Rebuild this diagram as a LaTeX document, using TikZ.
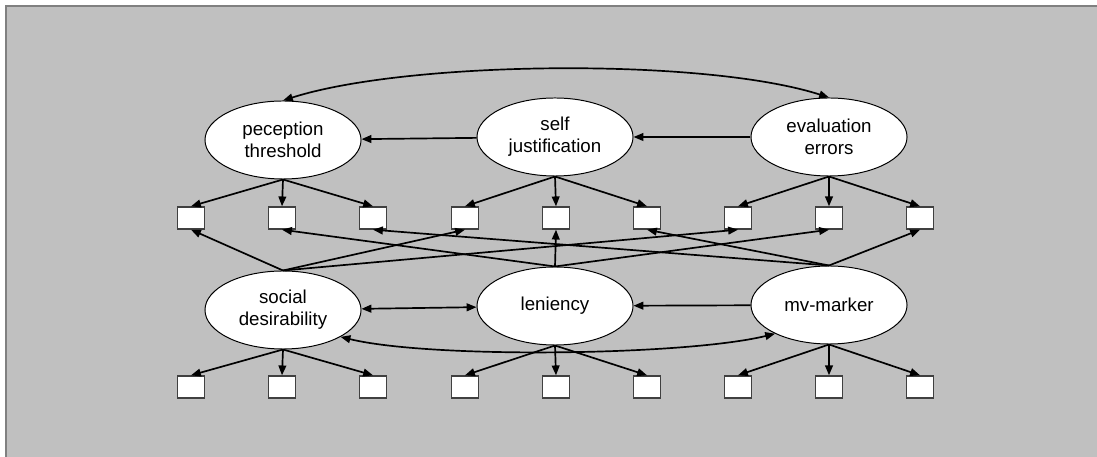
\documentclass[tikz,border=0pt]{standalone}
\usepackage{fontspec}
\setmainfont{Liberation Sans}
\usepackage{xcolor}
\usetikzlibrary{arrows.meta,shapes.geometric}
\definecolor{panel}{HTML}{C0C0C0}
\definecolor{panelrim}{HTML}{808080}
\definecolor{boxrim}{HTML}{404040}
\tikzset{
	factor/.style={
			ellipse, draw=black, fill=white, line width=0.7pt,
			minimum width=3.9cm, minimum height=1.95cm, inner sep=0pt,
			align=center, font=\fontsize{13.3}{15.6}\selectfont
		},
	item/.style={
			rectangle, draw=boxrim, fill=white, line width=1pt,
			minimum width=0.675cm, minimum height=0.55cm, inner sep=0pt
		},
	loading/.style={line width=1.2pt, -{Triangle[length=7pt,width=5.5pt]}},
	cov/.style={line width=1.2pt, {Triangle[length=7pt,width=5.5pt]}-{Triangle[length=7pt,width=5.5pt]}}
}

\begin{document}
\begin{tikzpicture}[x=0.025cm, y=-0.025cm]

		% Background panel
		\useasboundingbox (0,0) rectangle (1097,457);
		\fill[panel] (5,5) rectangle (1097,457);
		\draw[panelrim, line width=0.05cm] (1097,6) -- (6,6) -- (6,457);

		% Method factors (top row)
		\node[factor] (pt) at (283,140) {peception\\threshold};
		\node[factor] (sj) at (555,137) {self\\justification};
		\node[factor] (ee) at (829,137) {evaluation\\errors};

		% Trait factors (bottom row)
		\node[factor] (sd) at (283,310) {social\\desirability};
		\node[factor] (len) at (555,306) {leniency};
		\node[factor] (mv) at (829,305) {mv-marker};

		% Indicators
		\foreach \i/\x in {1/191,2/282,3/373,4/465,5/556,6/647,7/738,8/829,9/920} {
				\node[item] (t\i) at (\x,218) {};
				\node[item] (b\i) at (\x,387) {};
			}

		% Top row loadings
		\foreach \i in {1,2,3} \draw[loading] (pt.south) -- (t\i.north);
		\foreach \i in {4,5,6} \draw[loading] (sj.south) -- (t\i.north);
		\foreach \i in {7,8,9} \draw[loading] (ee.south) -- (t\i.north);

		% Cross loadings on top indicators
		\foreach \i in {1,4,7} \draw[loading] (sd.north) -- (t\i.south);
		\foreach \i in {2,5,8} \draw[loading] (len.north) -- (t\i.south);
		\foreach \i in {3,6,9} \draw[loading] (mv.north) -- (t\i.south);

		% Bottom row loadings
		\foreach \i in {1,2,3} \draw[loading] (sd.south) -- (b\i.north);
		\foreach \i in {4,5,6} \draw[loading] (len.south) -- (b\i.north);
		\foreach \i in {7,8,9} \draw[loading] (mv.south) -- (b\i.north);

		% Paths between factors
		\draw[loading] (sj) -- (pt);
		\draw[loading] (ee) -- (sj);
		\draw[loading] (mv) -- (len);
		\draw[cov] (sd) -- (len);

		% Covariances
		\draw[cov] (pt.north) .. controls +(125,-40) and +(-125,-40) .. (ee.north);
		\draw[cov] (sd.-25) .. controls +(90,22) and +(-90,22) .. (mv.-152);
	\end{tikzpicture}
\end{document}
